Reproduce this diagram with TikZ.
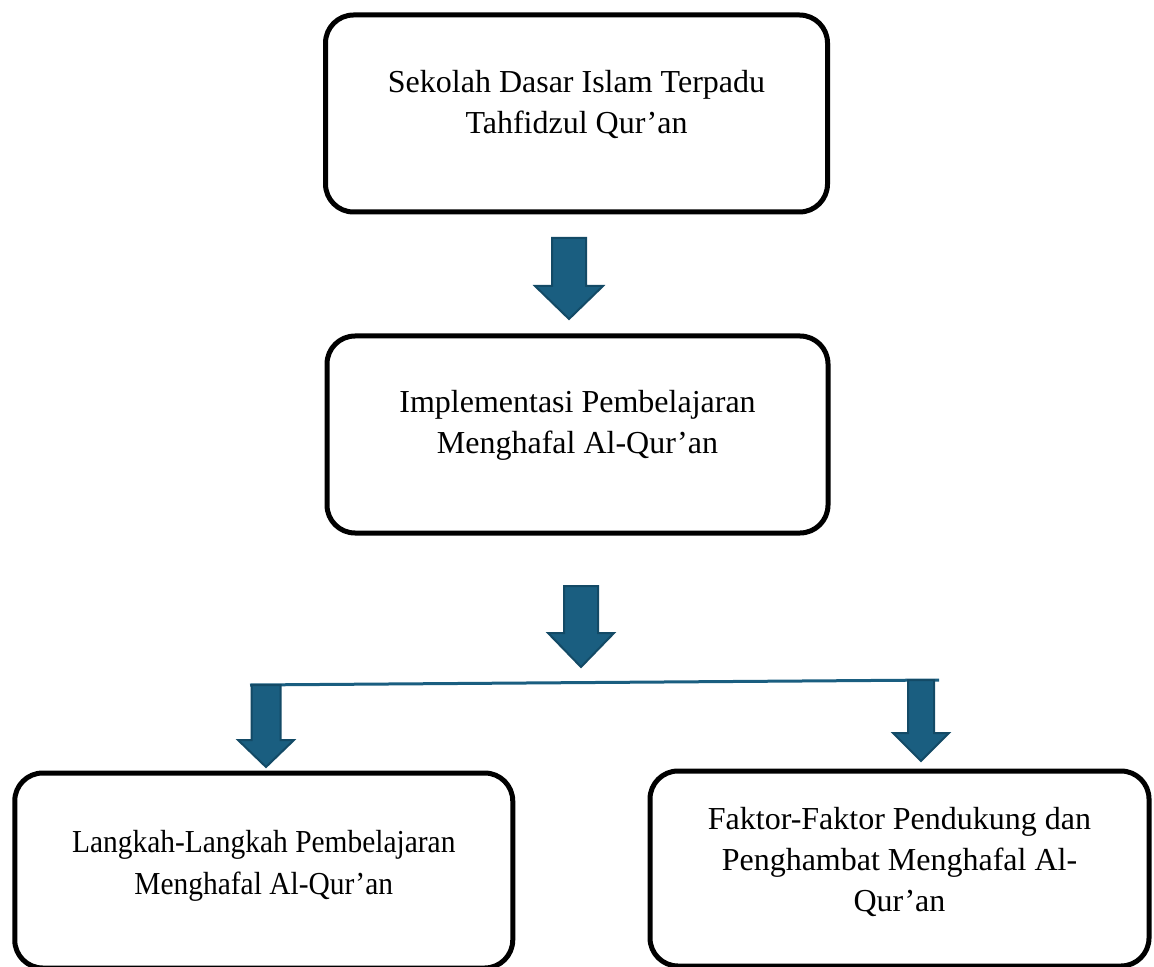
\documentclass[tikz,border=0pt]{standalone}
\usepackage{fontspec}
\setmainfont{Liberation Serif}
\usetikzlibrary{positioning}
\definecolor{arrowfill}{HTML}{1A5E80}
\definecolor{arrowedge}{HTML}{134A66}
\tikzstyle{box} = [rectangle, rounded corners=14pt, draw=black, line width=2.5pt, minimum width=251pt, minimum height=98.5pt]
\tikzstyle{boxtext} = [align=center, inner sep=0pt, font=\fontsize{16}{20.5}\selectfont]
\tikzstyle{blockarrow} = [fill=arrowfill, draw=arrowedge, line width=1pt, line join=miter]
\tikzstyle{branch} = [draw=arrowfill, line width=1.5pt]
% x centre, top, head start, tip, shaft half, head half
\newcommand{\downblock}[6]{\draw[blockarrow] (#1-#5,#2) -- (#1+#5,#2) -- (#1+#5,#3) -- (#1+#6,#3) -- (#1,#4) -- (#1-#6,#3) -- (#1-#5,#3) -- cycle;}
\begin{document}
\begin{tikzpicture}[x=0.5pt, y=-0.5pt]
            \useasboundingbox (0,0) rectangle (1154,967);

            \node (sekolah) [box] at (576.5,113.5) {};
            \node (sekolahText) [boxtext] at ([yshift=4.75pt]sekolah.center) {Sekolah Dasar Islam Terpadu\\Tahfidzul Qur’an};

            \node (implementasi) [box, minimum width=250.5pt] at (577.5,434.5) {};
            \node (implementasiText) [boxtext] at ([yshift=4.75pt]implementasi.center) {Implementasi Pembelajaran\\Menghafal Al-Qur’an};

            \node (langkah) [box, minimum width=249pt, minimum height=97.5pt] at (263.75,870.5) {};
            \node (langkahText) [boxtext, font=\fontsize{16}{21}\selectfont, xscale=0.92, transform shape] at ([yshift=2.5pt]langkah.center) {Langkah-Langkah Pembelajaran\\Menghafal Al-Qur’an};

            \node (faktor) [box, minimum width=249.5pt, minimum height=97.5pt] at (899.5,868.5) {};
            \node (faktorText) [boxtext] at ([yshift=3.25pt]faktor.center) {Faktor-Faktor Pendukung dan\\Penghambat Menghafal Al-\\Qur’an};

            \coordinate (splitL) at (250,685);
            \coordinate (splitR) at (939,680);
            \draw[branch] (splitL) -- (splitR);

            \downblock{569}{238}{286}{319}{17}{34}
            \downblock{581}{586}{633}{667}{17}{33}
            \downblock{266}{685}{740}{767}{14.5}{28}
            \downblock{921}{680}{733}{761}{13}{28}
        \end{tikzpicture}
\end{document}
